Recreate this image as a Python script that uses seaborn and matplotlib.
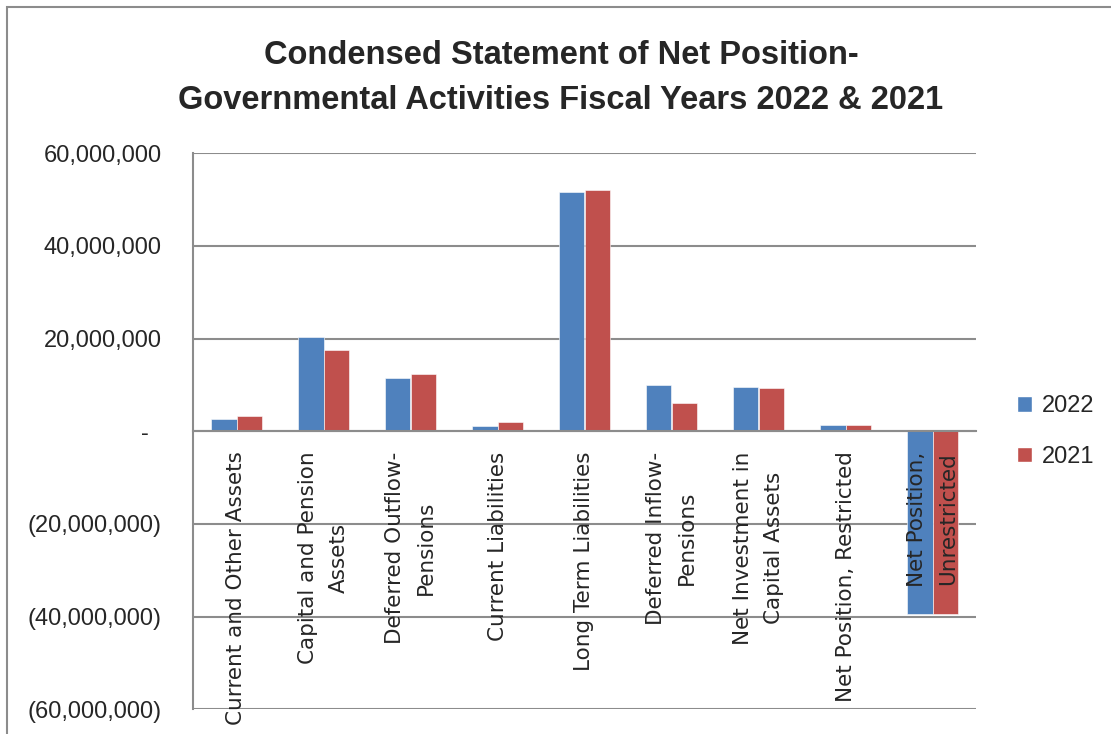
import pandas as pd
import matplotlib
matplotlib.use("Agg")
import matplotlib.pyplot as plt
import seaborn as sns
from matplotlib.ticker import FuncFormatter, MultipleLocator
from matplotlib.patches import Patch, Rectangle

# chart values
categories = [
    "Current and Other Assets",
    "Capital and Pension\nAssets",
    "Deferred Outflow-\nPensions",
    "Current Liabilities",
    "Long Term Liabilities",
    "Deferred Inflow-\nPensions",
    "Net Investment in\nCapital Assets",
    "Net Position, Restricted",
    "Net Position,\nUnrestricted",
]
values_2022 = [2700000, 20300000, 11400000, 1100000, 51600000, 10100000, 9600000, 1450000, -39500000]
values_2021 = [3200000, 17500000, 12300000, 1900000, 52000000, 6200000, 9300000, 1450000, -39500000]
years = ["2022", "2021"]
colors = ["#4F81BD", "#C0504D"]

df = pd.DataFrame({
    "category": categories * 2,
    "value": values_2022 + values_2021,
    "year": [years[0]] * len(categories) + [years[1]] * len(categories),
})

sns.set_style("white")
plt.rcParams['font.family'] = ['DejaVu Sans']

fig = plt.figure(figsize=(11.11, 7.34), dpi=100)
ax = fig.add_axes([193 / 1111, (734 - 709.3) / 734, (976 - 193) / 1111, (709.3 - 153.3) / 734])

sns.barplot(data=df, x="category", y="value", hue="year", palette=colors,
            width=0.575, gap=0, saturation=1, ax=ax, legend=False, zorder=1,
            edgecolor="white", linewidth=0.4)
ax.set_axisbelow(False)

ax.set_ylim(-60000000, 60000000)
ax.set_xlim(-0.5, len(categories) - 0.5)
ax.set_xlabel("")
ax.set_ylabel("")

grid_col = "#8c8c8c"
for yv in range(-60000000, 60000001, 20000000):
    ax.axhline(yv, color=grid_col, lw=1.5, zorder=0)

ax.yaxis.set_major_locator(MultipleLocator(20000000))


def fmt(v, pos):
    if abs(v) < 1:
        return "-  "
    if v < 0:
        return f"({abs(v):,.0f})"
    return f"{v:,.0f}"


ax.yaxis.set_major_formatter(FuncFormatter(fmt))
ax.tick_params(axis="y", labelsize=17, length=6.5, width=1.5, color=grid_col, pad=16)
for lab in ax.get_yticklabels():
    lab.set_fontfamily("Liberation Sans")

for side in ["top", "right"]:
    ax.spines[side].set_visible(False)
ax.spines["left"].set_color(grid_col)
ax.spines["left"].set_linewidth(1.5)
ax.spines["bottom"].set_position(("data", 0))
ax.spines["bottom"].set_color(grid_col)
ax.spines["bottom"].set_linewidth(1.5)

ax.set_xticks(range(len(categories)))
ax.set_xticks([i - 0.5 for i in range(len(categories) + 1)], minor=True)
ax.tick_params(axis="x", which="major", length=0, pad=14.5)
ax.tick_params(axis="x", which="minor", length=7, width=1.5, color=grid_col, direction="out")
ax.set_xticklabels(categories, rotation=90, fontsize=15.5, ha="center", va="top",
                   multialignment="center", linespacing=1.65)

handles = [Patch(facecolor=c, label=y) for c, y in zip(colors, years)]
fig.legend(handles=handles, loc="center left", bbox_to_anchor=(0.896, 0.412),
           frameon=False, prop={"family": "Liberation Sans", "size": 17},
           handlelength=0.65, handleheight=0.65, handletextpad=0.4, labelspacing=1.2)

fig.text(0.505, 1 - 78 / 734,
         "Condensed Statement of Net Position-\nGovernmental Activities Fiscal Years 2022 & 2021",
         ha="center", va="center", fontsize=23.5, fontweight="bold",
         family="Liberation Sans", linespacing=1.55)

fig.add_artist(Rectangle((7 / 1111, -0.1), 1.2, (727 / 734) + 0.1, transform=fig.transFigure,
                         fill=False, edgecolor=grid_col, lw=1.5))

fig.savefig("out.png", dpi=100)
